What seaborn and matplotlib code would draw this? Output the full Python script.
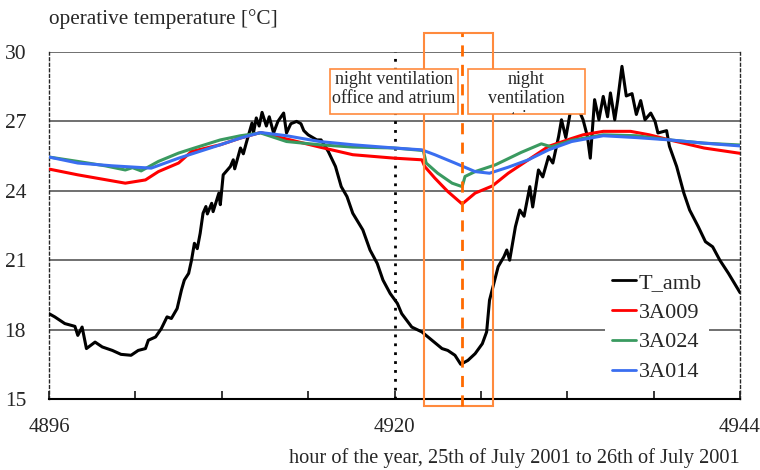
import numpy as np
import pandas as pd
import matplotlib
matplotlib.use("Agg")
import matplotlib.pyplot as plt
import seaborn as sns
from matplotlib.patches import Rectangle

# ---------------- data ----------------
amb_hour = [4896.0, 4896.4, 4897.1, 4897.8, 4898.0, 4898.3, 4898.6, 4899.2, 4899.7, 4900.4,
            4901.0, 4901.7, 4902.2, 4902.7, 4902.9, 4903.4, 4903.8, 4904.2, 4904.5, 4904.9,
            4905.2, 4905.4, 4905.7, 4905.9, 4906.1, 4906.3, 4906.5, 4906.7, 4906.9, 4907.0,
            4907.3, 4907.4, 4907.8, 4907.9, 4908.1, 4908.6, 4908.8, 4908.9, 4909.3, 4909.5,
            4909.7, 4910.1, 4910.2, 4910.4, 4910.6, 4910.8, 4911.1, 4911.3, 4911.6, 4911.9,
            4912.3, 4912.5, 4912.8, 4913.2, 4913.5, 4913.7, 4914.0, 4914.6, 4914.9, 4915.4,
            4915.9, 4916.3, 4916.7, 4917.1, 4917.8, 4918.3, 4918.8, 4919.2, 4919.7, 4920.2,
            4920.5, 4921.2, 4921.9, 4922.6, 4923.3, 4923.7, 4924.2, 4924.6, 4925.1, 4925.6,
            4926.1, 4926.4, 4926.6, 4926.9, 4927.2, 4927.6, 4927.8, 4928.0, 4928.4, 4928.7,
            4929.0, 4929.4, 4929.6, 4930.0, 4930.3, 4930.7, 4931.0, 4931.4, 4931.6, 4931.9,
            4932.2, 4932.7, 4933.1, 4933.4, 4933.6, 4933.9, 4934.2, 4934.5, 4934.8, 4935.0,
            4935.3, 4935.5, 4935.8, 4936.1, 4936.5, 4936.8, 4937.1, 4937.4, 4937.8, 4938.1,
            4938.3, 4938.9, 4939.1, 4939.6, 4940.1, 4940.5, 4941.1, 4941.6, 4942.1, 4942.6,
            4943.2, 4943.9, 4944.0]
amb_temp = [18.69, 18.55, 18.26, 18.14, 17.75, 18.11, 17.18, 17.46, 17.25, 17.10,
            16.93, 16.89, 17.10, 17.18, 17.54, 17.68, 18.04, 18.55, 18.48, 18.91,
            19.71, 20.14, 20.43, 21.00, 21.73, 21.50, 22.16, 23.03, 23.32, 23.00,
            23.46, 23.10, 23.90, 23.40, 24.69, 25.05, 25.34, 24.95, 25.85, 25.60,
            26.06, 26.93, 26.50, 27.15, 26.80, 27.39, 26.80, 27.20, 26.50, 27.00,
            27.36, 26.50, 26.90, 27.00, 26.90, 26.60, 26.42, 26.20, 26.20, 25.70,
            25.05, 24.18, 23.75, 23.03, 22.31, 21.44, 20.86, 20.14, 19.56, 19.13,
            18.69, 18.11, 17.90, 17.54, 17.18, 17.10, 16.89, 16.50, 16.67, 16.96,
            17.39, 17.90, 19.27, 20.00, 20.72, 21.15, 21.44, 21.00, 22.45, 23.17,
            22.90, 24.18, 23.30, 24.90, 24.60, 25.48, 25.20, 26.35, 27.07, 26.30,
            27.36, 27.65, 27.07, 26.35, 25.41, 27.94, 27.07, 28.08, 27.20, 28.23,
            27.07, 27.90, 29.38, 28.10, 28.20, 27.30, 27.90, 27.07, 27.36, 27.00,
            26.50, 26.60, 25.92, 25.05, 23.90, 23.17, 22.45, 21.80, 21.58, 21.00,
            20.43, 19.70, 19.60]

r009_hour = [4896.0, 4898.0, 4901.3, 4902.7, 4903.6, 4905.0, 4905.9, 4907.9, 4909.3, 4910.7,
             4912.5, 4914.8, 4917.1, 4920.0, 4921.9, 4922.1, 4922.8, 4923.7, 4924.7, 4925.6,
             4926.8, 4927.9, 4929.3, 4930.7, 4932.3, 4933.1, 4934.5, 4936.4, 4937.7, 4939.1,
             4941.5, 4944.0]
r009_temp = [24.94, 24.69, 24.33, 24.47, 24.83, 25.20, 25.70, 25.99, 26.28, 26.52,
             26.24, 25.89, 25.56, 25.41, 25.34, 25.05, 24.55, 23.97, 23.43, 23.90,
             24.21, 24.76, 25.34, 25.92, 26.26, 26.42, 26.57, 26.57, 26.42, 26.20,
             25.85, 25.62]

r024_hour = [4896.0, 4898.0, 4899.9, 4901.3, 4901.8, 4902.4, 4903.6, 4905.0, 4906.1, 4907.9,
             4909.3, 4910.7, 4912.5, 4914.8, 4917.1, 4920.0, 4922.0, 4922.2, 4923.0, 4924.0,
             4924.7, 4924.9, 4925.6, 4927.0, 4928.8, 4930.2, 4930.9, 4932.3, 4934.5, 4936.8,
             4939.1, 4941.5, 4944.0]
r024_temp = [25.46, 25.27, 25.08, 24.90, 25.00, 24.86, 25.27, 25.63, 25.85, 26.20,
             26.38, 26.50, 26.13, 25.99, 25.89, 25.85, 25.74, 25.20, 24.76, 24.33,
             24.18, 24.62, 24.83, 25.12, 25.66, 26.03, 25.90, 26.18, 26.42, 26.38,
             26.20, 26.06, 25.98]

r014_hour = [4896.0, 4898.0, 4900.4, 4902.0, 4903.1, 4905.0, 4906.8, 4907.9, 4909.3, 4910.7,
             4912.5, 4914.8, 4917.1, 4920.0, 4921.9, 4922.8, 4924.2, 4925.6, 4926.6, 4927.9,
             4929.3, 4930.7, 4932.3, 4934.5, 4936.8, 4939.1, 4941.5, 4944.0]
r014_temp = [25.46, 25.20, 25.08, 25.02, 24.98, 25.41, 25.77, 25.99, 26.28, 26.52,
             26.38, 26.13, 25.99, 25.85, 25.77, 25.56, 25.20, 24.83, 24.76, 25.02,
             25.34, 25.77, 26.13, 26.38, 26.30, 26.20, 26.06, 25.94]

series_names = ["T_amb", "3A009", "3A024", "3A014"]
series_colors = ["#000000", "#ff0000", "#3a9a60", "#3a6ef0"]

y_ticks = [15, 18, 21, 24, 27, 30]
x_major = [4896, 4920, 4944]
x_minor = [4902, 4908, 4914, 4926, 4932, 4938]

# night-ventilation period markers (hours)
vent_start, vent_mid, vent_end = 4922.07, 4924.67, 4926.86

# ---------------- build long table ----------------
frames = []
for name, h, t in [("T_amb", amb_hour, amb_temp), ("3A009", r009_hour, r009_temp),
                   ("3A024", r024_hour, r024_temp), ("3A014", r014_hour, r014_temp)]:
    frames.append(pd.DataFrame({"hour": h, "temp": t, "series": name}))
df = pd.concat(frames, ignore_index=True)

# ---------------- style ----------------
sns.set_style("white")
plt.rcParams["font.family"] = ["Liberation Serif", "DejaVu Serif"]
plt.rcParams["font.size"] = 15

fig = plt.figure(figsize=(7.6, 4.7), dpi=100)
ax = fig.add_axes([49 / 760, 71 / 470, 691 / 760, 347 / 470])

# gridlines
for yv in y_ticks[1:]:
    ax.axhline(yv, color="#707070", lw=1.4, zorder=1)

sns.lineplot(data=df, x="hour", y="temp", hue="series", hue_order=series_names,
             palette=series_colors, sort=False, estimator=None, lw=2.2, ax=ax, zorder=3)

# dotted day separator
ax.axvline(4920, color="black", lw=2.0, ls=(0, (1, 2.2)), zorder=2)

ax.set_xlim(4896, 4944)
ax.set_ylim(15, 30)

ax.spines["top"].set_visible(False)
ax.spines["left"].set_linestyle((0, (2, 2)))
ax.spines["left"].set_linewidth(1.0)
ax.spines["right"].set_linestyle((0, (2, 2)))
ax.spines["right"].set_linewidth(1.0)
ax.spines["bottom"].set_linewidth(1.5)
ax.spines["bottom"].set_color("black")

ax.set_xticks(x_major)
ax.set_xticks(x_minor, minor=True)
ax.set_xticklabels([str(v) for v in x_major])
ax.tick_params(axis="x", which="both", direction="in", length=6, width=1.3, pad=14,
               bottom=True, labelsize=15)
ax.set_yticks(y_ticks)
ax.set_yticklabels([str(v) for v in y_ticks])
ax.tick_params(axis="y", left=False, pad=13, labelsize=15.5)
ax.set_xlabel("")
ax.set_ylabel("")

# orange ventilation annotations
orange = "#ff8a3d"
rect = Rectangle((vent_start, 14.71), vent_end - vent_start, 30.83 - 14.71,
                 fill=False, edgecolor=orange, lw=1.5, clip_on=False, zorder=4)
ax.add_patch(rect)
ax.plot([vent_mid, vent_mid], [14.71, 30.83], color="#ff6a00", lw=2.0,
        ls=(0, (4, 3)), clip_on=False, zorder=4)

# label boxes (pixel coordinates of the figure)
box_specs = [((330, 470 - 114), 128, 45, "night ventilation\noffice and atrium"),
             ((468, 470 - 114), 117, 45, "night\nventilation\natrium")]
for (x0, y0), w, hgt, txt in box_specs:
    b = Rectangle((x0, y0), w, hgt, transform=None, facecolor="white",
                  edgecolor=orange, lw=1.2, zorder=5)
    fig.add_artist(b)
    t = fig.text((x0 + w / 2) / 760, (470 - 70.5) / 470, txt, ha="center", va="top",
                 fontsize=13, linespacing=1.2, zorder=6)
    t.set_clip_path(b)

# legend
handles, labels = ax.get_legend_handles_labels()
leg = ax.legend(handles, labels, loc="upper left", bbox_to_anchor=(0.805, 0.385),
                frameon=True, facecolor="white", edgecolor="none", framealpha=1,
                fontsize=16, handlelength=1.1, handletextpad=0.12,
                labelspacing=0.42, borderpad=0.3, borderaxespad=0)
for lh in leg.get_lines():
    lh.set_linewidth(2.0)
leg.set_zorder(6)

fig.text(49 / 760, 1 - 19 / 470, "operative temperature [°C]", ha="left", va="center",
         fontsize=15.3)
fig.text(740 / 760, 1 - 458 / 470,
         "hour of the year, 25th of July 2001 to 26th of July 2001",
         ha="right", va="center", fontsize=14.7)

fig.savefig("out.png", dpi=100)
